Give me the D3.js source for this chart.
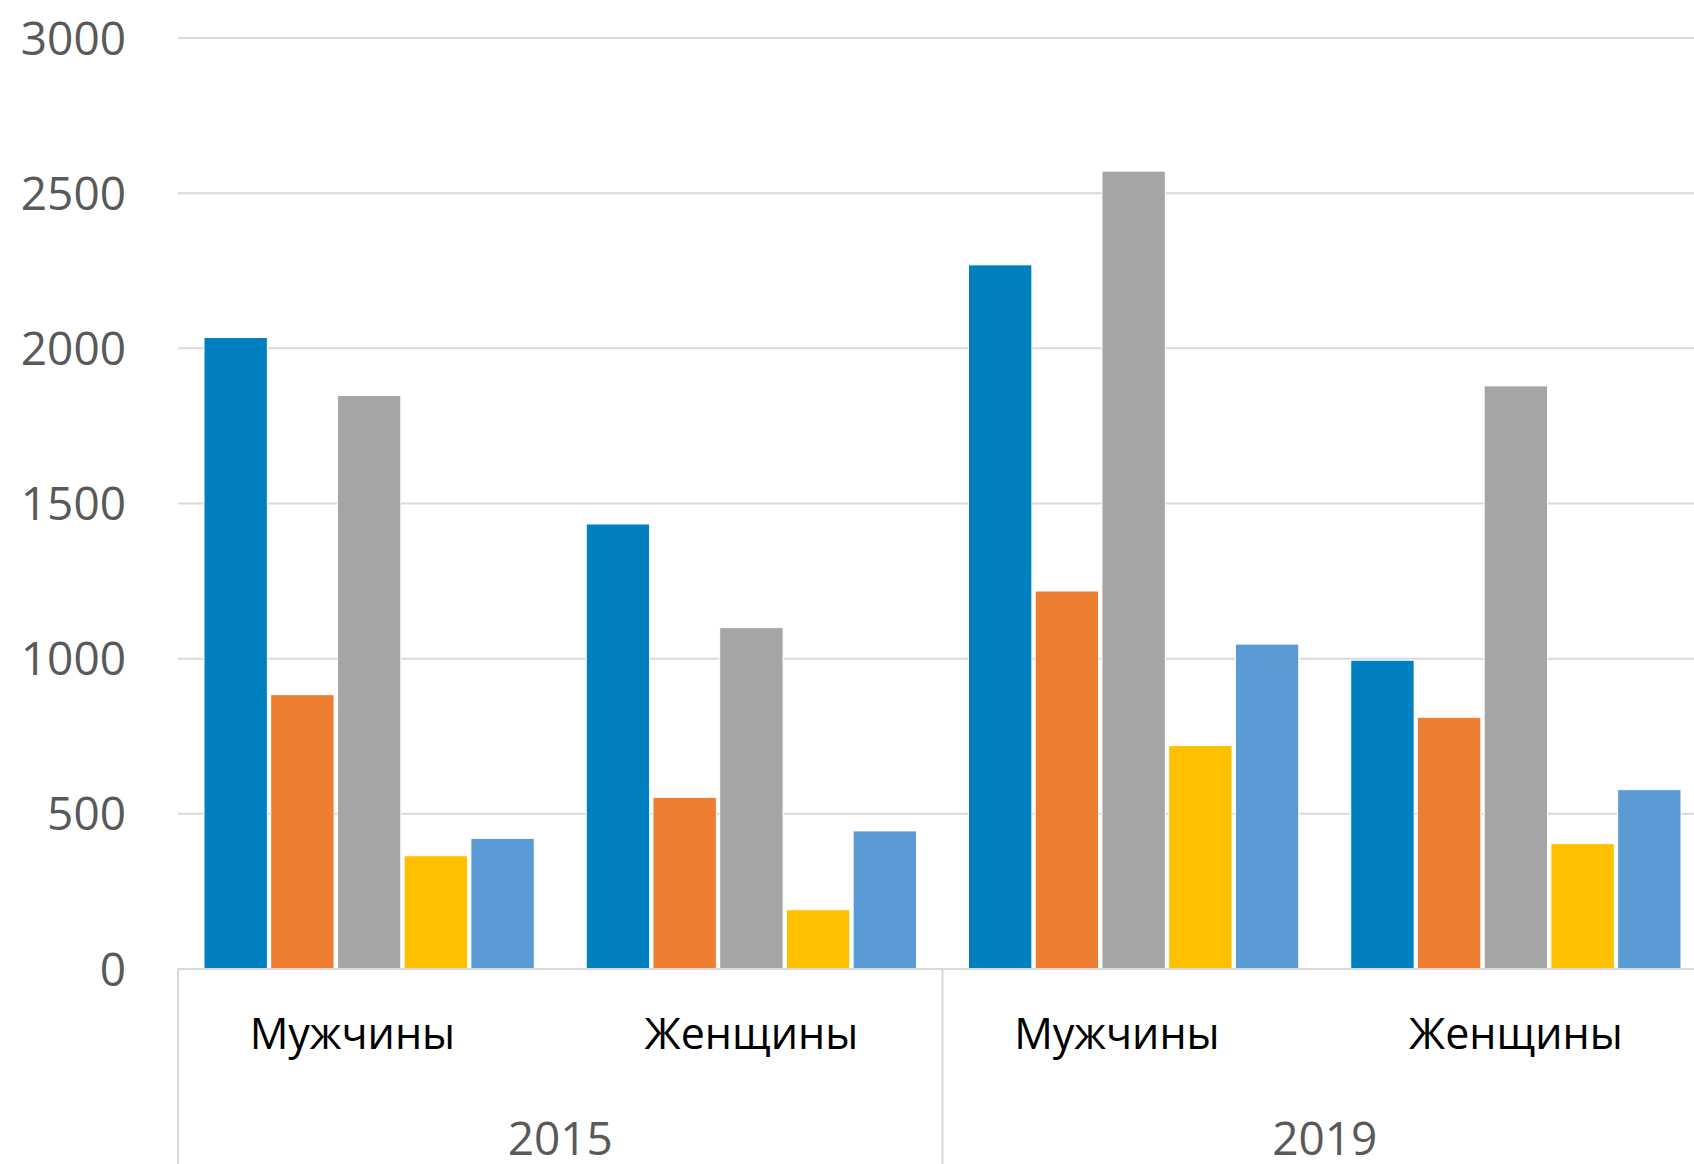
<!DOCTYPE html>
<html>
<head>
<meta charset="utf-8">
<script src="https://cdn.jsdelivr.net/npm/d3@7"></script>
<style>
    body { margin: 0; background: #fff; }
    svg text { font-family: "Open Sans", "Noto Sans", sans-serif; white-space: pre; }
</style>
</head>
<body>
<div id="chart-area"></div>
<script>

// data
var years = ["2015", "2019"];
var genders = ["Мужчины", "Женщины"];
var seriesNames = ["s1", "s2", "s3", "s4", "s5"];
var colors = ["#0080BF", "#ED7D31", "#A5A5A5", "#FFC000", "#5B9BD5"];
var yTicks = [0, 500, 1000, 1500, 2000, 2500, 3000];

var values2015m = [2035, 884, 1848, 365, 421];
var values2015f = [1434, 553, 1100, 191, 445];
var values2019m = [2269, 1218, 2571, 720, 1047];
var values2019f = [995, 811, 1879, 404, 578];


/*
 * GroupedBars - object constructor function
 */

GroupedBars = function(_parentElement, _data){
    this.parentElement = _parentElement;
    this.data = _data;

    this.initVis();
}

GroupedBars.prototype.initVis = function(){
    var vis = this;

    vis.W = 1694;
    vis.H = 1164;

    // the plot runs a bit past the right edge, like in the original
    vis.margin = {top: 38, left: 178, bottom: 195};
    vis.width = 1529;
    vis.height = vis.H - vis.margin.top - vis.margin.bottom;

    vis.svg = d3.select("#" + vis.parentElement).append("svg")
        .attr("width", vis.W)
        .attr("height", vis.H)
        .style("display", "block");

    vis.g = vis.svg.append("g")
        .attr("transform", "translate(" + vis.margin.left + "," + vis.margin.top + ")");

    vis.y = d3.scaleLinear()
        .domain([0, 3000])
        .range([vis.height, 0]);

    vis.x0 = d3.scaleBand()
        .domain(vis.data.map(d => d.key))
        .range([0, vis.width]);

    var pad = vis.x0.bandwidth() * 0.068;
    vis.x1 = d3.scaleBand()
        .domain(seriesNames)
        .range([pad, vis.x0.bandwidth() - pad])
        .paddingInner(0.05);

    vis.yearScale = d3.scaleBand()
        .domain(years)
        .range([0, vis.width]);

    vis.updateVis();
}

GroupedBars.prototype.updateVis = function(){
    var vis = this;

    // gridlines
    vis.g.selectAll(".grid")
        .data(yTicks.filter(t => t > 0))
        .enter()
        .append("line")
        .attr("class", "grid")
        .attr("x1", 0)
        .attr("x2", vis.width)
        .attr("y1", d => vis.y(d))
        .attr("y2", d => vis.y(d))
        .attr("stroke", "#D9D9D9")
        .attr("stroke-width", 2);

    // y labels
    vis.g.selectAll(".ylab")
        .data(yTicks)
        .enter()
        .append("text")
        .attr("class", "ylab")
        .attr("x", -52)
        .attr("y", d => vis.y(d))
        .attr("dy", "0.36em")
        .attr("text-anchor", "end")
        .style("font-size", "46px")
        .style("fill", "#595959")
        .text(d => d);

    // bars
    var groups = vis.g.selectAll(".group")
        .data(vis.data)
        .enter()
        .append("g")
        .attr("class", "group")
        .attr("transform", d => "translate(" + vis.x0(d.key) + ",0)");

    groups.selectAll("rect")
        .data(d => d.values.map((v, i) => ({name: seriesNames[i], value: v, color: colors[i]})))
        .enter()
        .append("rect")
        .attr("x", d => vis.x1(d.name))
        .attr("width", vis.x1.bandwidth())
        .attr("y", d => vis.y(d.value))
        .attr("height", d => vis.y(0) - vis.y(d.value))
        .attr("fill", d => d.color)
        .attr("stroke", "#fff")
        .attr("stroke-width", 1);

    // baseline
    vis.g.append("line")
        .attr("x1", 0)
        .attr("x2", vis.width)
        .attr("y1", vis.y(0))
        .attr("y2", vis.y(0))
        .attr("stroke", "#D9D9D9")
        .attr("stroke-width", 2);

    // year separators
    var seps = [0].concat(years.map(yr => vis.yearScale(yr) + vis.yearScale.bandwidth()));
    vis.g.selectAll(".sep")
        .data(seps)
        .enter()
        .append("line")
        .attr("class", "sep")
        .attr("x1", d => d)
        .attr("x2", d => d)
        .attr("y1", vis.y(0))
        .attr("y2", vis.H)
        .attr("stroke", "#D9D9D9")
        .attr("stroke-width", 2);

    // category labels
    vis.g.selectAll(".catlab")
        .data(vis.data)
        .enter()
        .append("text")
        .attr("class", "catlab")
        .attr("x", d => vis.x0(d.key) + vis.x0.bandwidth() / 2)
        .attr("y", vis.y(0) + 80)
        .attr("text-anchor", "middle")
        .style("font-size", "43px")
        .style("fill", "#000")
        .text(d => d.gender);

    // year labels
    vis.g.selectAll(".yearlab")
        .data(years)
        .enter()
        .append("text")
        .attr("class", "yearlab")
        .attr("x", d => vis.yearScale(d) + vis.yearScale.bandwidth() / 2)
        .attr("y", vis.y(0) + 186)
        .attr("text-anchor", "middle")
        .style("font-size", "46px")
        .style("fill", "#595959")
        .text(d => d);
}


var data = [
    {key: "2015-m", year: "2015", gender: genders[0] + "   ", values: values2015m},
    {key: "2015-f", year: "2015", gender: genders[1], values: values2015f},
    {key: "2019-m", year: "2019", gender: genders[0] + "   ", values: values2019m},
    {key: "2019-f", year: "2019", gender: genders[1], values: values2019f}
];

var chart = new GroupedBars("chart-area", data);

</script>
</body>
</html>
